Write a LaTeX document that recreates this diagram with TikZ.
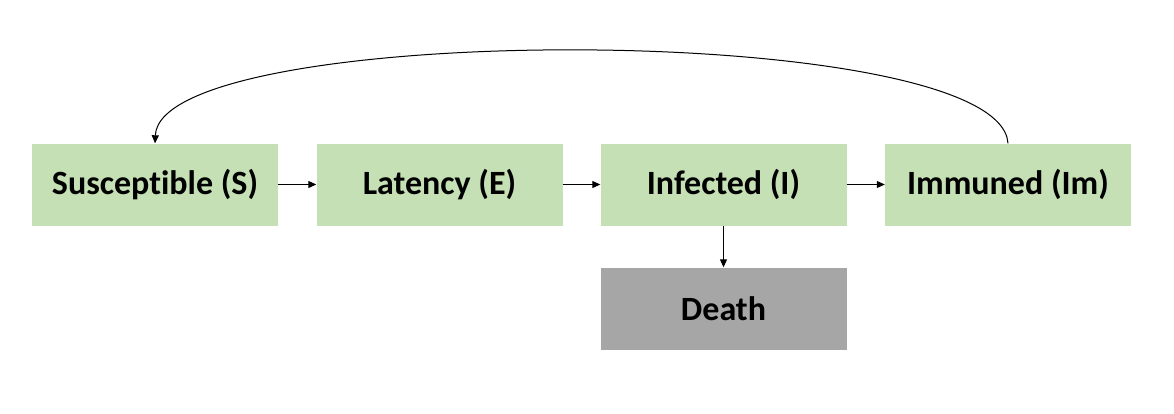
\documentclass[tikz,border=0pt]{standalone}
\usepackage{fontspec}
\setmainfont{Carlito}[RawFeature=-liga]
\usetikzlibrary{arrows.meta}
\definecolor{boxgreen}{HTML}{C5E0B4}
\definecolor{boxgray}{HTML}{A6A6A6}
\begin{document}
\begin{tikzpicture}[x=1pt,y=-1pt,
  stage/.style={rectangle,fill=boxgreen,minimum width=246pt,minimum height=82pt,inner sep=0pt,
    font=\fontsize{34}{38}\selectfont\bfseries,text=black},
  dead/.style={stage,fill=boxgray},
  flow/.style={line width=1pt,-{Triangle[length=8pt,width=7pt]}}]
\useasboundingbox (0,0) rectangle (1174,413);
\node[stage] (S) at (155,184.5) {\raisebox{-1.5pt}{Susceptible (S)}};
\node[stage] (E) at (439.5,184.5) {\raisebox{-1.5pt}{Latency (E)}};
\node[stage] (I) at (723.5,184.5) {\raisebox{-1.5pt}{Infected (I)}};
\node[stage] (Im) at (1008,184.5) {\raisebox{-1.5pt}{Immuned (Im)}};
\node[dead] (D) at (723.5,308.5) {\raisebox{-1.5pt}{Death}};
\draw[flow] (S) -- (E);
\draw[flow] (E) -- (I);
\draw[flow] (I) -- (Im);
\draw[flow] (I) -- (D);
\draw[flow] (Im.north) .. controls (1000,20) and (160,20) .. (S.north);
\end{tikzpicture}
\end{document}
